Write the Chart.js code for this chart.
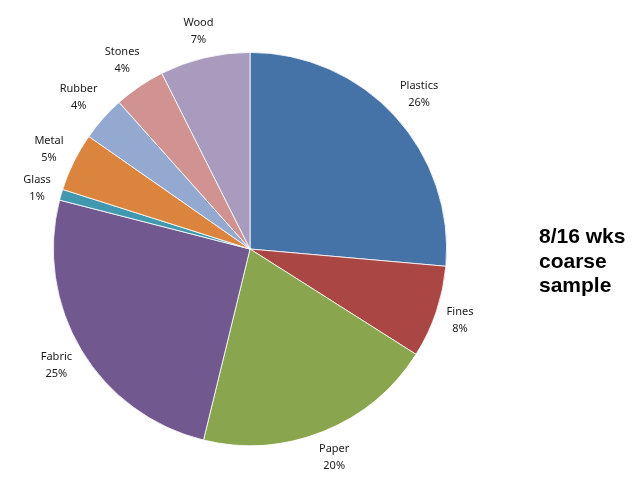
<!DOCTYPE html>
<html>
<head>
<meta charset="utf-8">
<script src="https://cdn.jsdelivr.net/npm/chart.js@4"></script>
<style>
  body { margin: 0; background: #fff; }
  #wrap { position: relative; width: 633px; height: 482px; }
  #note {
    position: absolute; left: 539px; top: 224px;
    font: bold 21px "Liberation Sans", Arial, sans-serif;
    line-height: 24.5px; color: #000;
  }
</style>
</head>
<body>
<div id="wrap">
  <canvas id="pie" width="633" height="482"></canvas>
  <div id="note">8/16 wks<br>coarse<br>sample</div>
</div>
<script>
// material shares (%), clockwise from 12 o'clock
const materials = ['Plastics', 'Fines', 'Paper', 'Fabric', 'Glass', 'Metal', 'Rubber', 'Stones', 'Wood'];
const shares = [26.4, 7.6, 19.8, 25.2, 0.9, 4.8, 3.7, 4.2, 7.4];
const colors = ['#4572A7', '#AA4643', '#89A54E', '#71588F', '#4198AF', '#DB843D', '#93A9CF', '#D19392', '#A99BBD'];

// name + percentage drawn just outside each slice
const outsideLabels = {
  id: 'outsideLabels',
  afterDatasetsDraw(chart) {
    const ctx = chart.ctx;
    const meta = chart.getDatasetMeta(0);
    const data = chart.data.datasets[0].data;
    const total = data.reduce((s, v) => s + v, 0);
    ctx.save();
    ctx.font = '11px "Noto Sans", sans-serif';
    ctx.fillStyle = '#1a1a1a';
    ctx.textAlign = 'center';
    ctx.textBaseline = 'middle';
    meta.data.forEach((arc, i) => {
      const mid = (arc.startAngle + arc.endAngle) / 2;
      const ux = Math.cos(mid), uy = Math.sin(mid);
      const name = chart.data.labels[i];
      const pct = Math.round(data[i] / total * 100) + '%';
      const halfW = Math.max(ctx.measureText(name).width, ctx.measureText(pct).width) / 2;
      const halfH = 17;
      const d = arc.outerRadius + 7 + halfW * Math.abs(ux) + halfH * Math.abs(uy);
      const cx = arc.x + ux * d, cy = arc.y + uy * d;
      ctx.fillText(name, cx, cy - 8.5);
      ctx.fillText(pct, cx, cy + 8.5);
    });
    ctx.restore();
  }
};

new Chart(document.getElementById('pie'), {
  type: 'pie',
  data: {
    labels: materials,
    datasets: [{
      data: shares,
      backgroundColor: colors,
      borderColor: '#fff',
      borderWidth: 0.8
    }]
  },
  options: {
    responsive: false,
    animation: false,
    layout: { padding: { left: 53, right: 186, top: 52, bottom: 36 } },
    plugins: { legend: { display: false }, tooltip: { enabled: false } }
  },
  plugins: [outsideLabels]
});
</script>
</body>
</html>
